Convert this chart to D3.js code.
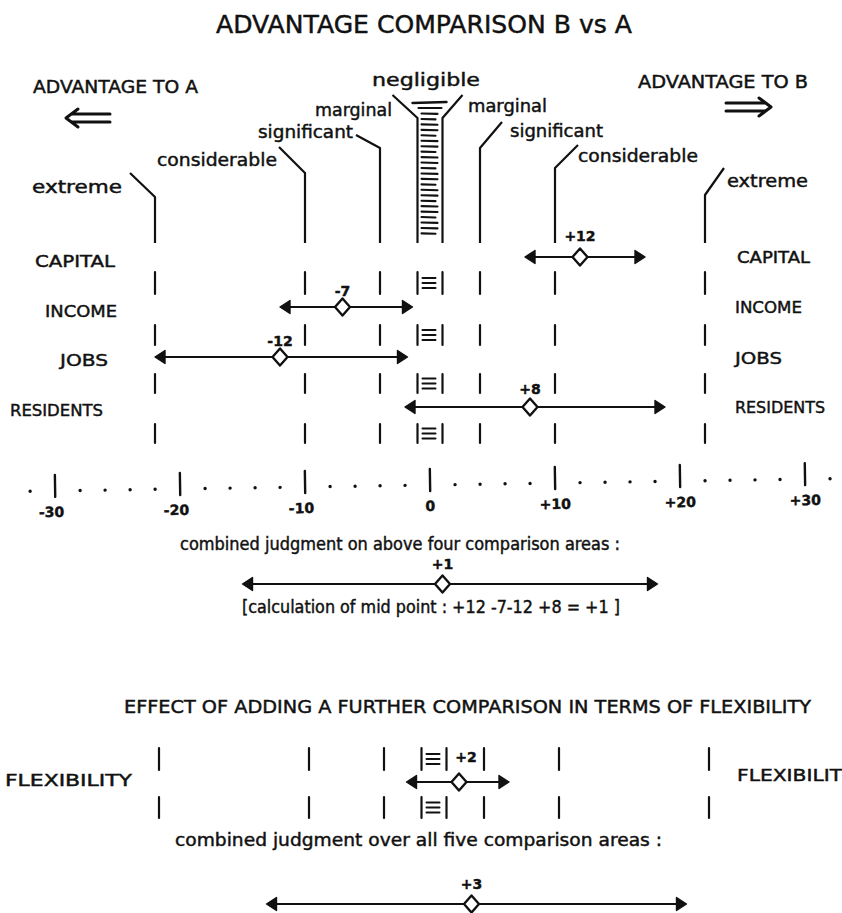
<!DOCTYPE html>
<html><head><meta charset="utf-8">
<script src="https://cdn.jsdelivr.net/npm/d3@7"></script>
<style>
body{margin:0;background:#fff}
svg{display:block}
text{font-family:"DejaVu Sans",sans-serif;fill:#111;stroke:#111;stroke-width:0.45px}
</style>
</head><body><script>
// ---------------- data ----------------
const degreeLabels = ["extreme","considerable","significant","marginal","negligible","marginal","significant","considerable","extreme"];
const boundaries = [-22,-10,-4,-1,1,4,10,22];
const tickValues = [-30,-20,-10,0,10,20,30];
const tickLabels = ["-30","-20","-10","0","+10","+20","+30"];
const minorValues = [-32,-28,-26,-24,-22,-18,-16,-14,-12,-8,-6,-4,-2,2,4,6,8,12,14,16,18,22,24,26,28,32];
const areas = ["CAPITAL","INCOME","JOBS","RESIDENTS"];
const areaMid = [12,-7,-12,8];
const areaLow = [7.6,-12,-22,-2];
const areaHigh = [17.2,-1.4,-1.8,18.8];
const areaMidLabels = ["+12","-7","-12","+8"];
const combinedRange = [-15,18.2];
const combinedMid = 1;
const combinedLabel = "+1";
const flexArea = "FLEXIBILITY";
const flexRange = [-2.2,6];
const flexMid = 2;
const flexLabel = "+2";
const finalRange = [-13.4,20.2];
const finalMid = 3;
const finalLabel = "+3";

// ---------------- layout ----------------
const W = 842, H = 913;
const svg = d3.select("body").append("svg").attr("width", W).attr("height", H);
const x = d3.scaleLinear().domain([-30,30]).range([55,805]);
const xb = d3.scaleLinear().domain([-30,30]).range([59,809]);
const ink = "#111";

function txt(s, x0, x1, base, size, weight){
  return svg.append("text").attr("x", x0).attr("y", base)
    .attr("font-size", size).attr("font-weight", weight||"normal")
    .attr("textLength", x1 - x0).attr("lengthAdjust","spacingAndGlyphs").text(s);
}

// titles
txt("ADVANTAGE COMPARISON B vs A", 216, 632, 33, 24);
txt("ADVANTAGE TO A", 33, 198, 93, 17);
txt("ADVANTAGE TO B", 638, 808, 88, 17);
// double arrows
svg.append("path").attr("d","M78,109 L66,118 L78,127 M72,114 H110 M72,122 H110")
  .attr("fill","none").attr("stroke",ink).attr("stroke-width",3).attr("stroke-linejoin","round").attr("stroke-linecap","round");
svg.append("path").attr("d","M759,98 L771,107 L759,116 M726,103 H765 M726,111 H765")
  .attr("fill","none").attr("stroke",ink).attr("stroke-width",3).attr("stroke-linejoin","round").attr("stroke-linecap","round");

// degree labels (positions by layout)
const degLayout = [
  {x0:32,x1:122,b:193},{x0:157,x1:277,b:166},{x0:258,x1:353,b:138},{x0:315,x1:392,b:116},
  {x0:372,x1:480,b:86},
  {x0:468,x1:547,b:112},{x0:510,x1:603,b:137},{x0:578,x1:698,b:162},{x0:727,x1:808,b:187}
];
degreeLabels.forEach((d,i)=>{ const L = degLayout[i]; txt(d, L.x0, L.x1, L.b, 17); });

// boundary lines with slanted tops
const lineTop = [197,173,148,118,118,148,168,195];
const slantDx = [-25,-26,-24,-25,20,22,23,19];
const slantTop = [173,147,135,95,95,122,145,168];
const line = d3.line();
boundaries.forEach((b,i)=>{
  const px = x(b);
  svg.append("path").attr("d", line([[px+slantDx[i], slantTop[i]],[px, lineTop[i]],[px, 243]]))
    .attr("fill","none").attr("stroke",ink).attr("stroke-width",2.2).attr("stroke-linejoin","round");
});
// negligible stripes in top band
svg.append("line").attr("x1",x(-1)-5).attr("x2",x(1)+4).attr("y1",103).attr("y2",102)
  .attr("stroke",ink).attr("stroke-width",2.4).attr("stroke-linecap","round");
svg.append("line").attr("x1",x(-1)+1).attr("x2",x(1)-1).attr("y1",108).attr("y2",108)
  .attr("stroke",ink).attr("stroke-width",2.2).attr("stroke-linecap","round");
d3.range(113.5, 238, 5.45).forEach((yy,k)=>{
  svg.append("line").attr("x1",x(-1)+4).attr("x2",x(1)-(k%3===1?7:5)).attr("y1",yy).attr("y2",yy+0.4)
    .attr("stroke",ink).attr("stroke-width",2.1).attr("stroke-linecap","round");
});

// row separators
const segRanges = [[272,294],[325,345],[374,393],[424,443]];
function separators(scale, ranges){
  ranges.forEach(r=>{
    boundaries.forEach(b=>{
      svg.append("line").attr("x1",scale(b)).attr("x2",scale(b)).attr("y1",r[0]).attr("y2",r[1])
        .attr("stroke",ink).attr("stroke-width",2.2).attr("stroke-linecap","round");
    });
    const m = (r[0]+r[1])/2;
    [-5,0,5].forEach(o=>{
      svg.append("line").attr("x1",scale(-1)+5).attr("x2",scale(1)-7).attr("y1",m+o).attr("y2",m+o)
        .attr("stroke",ink).attr("stroke-width",2).attr("stroke-linecap","round");
    });
  });
}
separators(x, segRanges);

// range arrows
function rangeArrow(scale, lo, hi, mid, y, label, labelDy, labelDx){
  const a = scale(lo), b = scale(hi), m = scale(mid);
  svg.append("line").attr("x1",a+6).attr("x2",b-6).attr("y1",y).attr("y2",y)
    .attr("stroke",ink).attr("stroke-width",1.9);
  svg.append("path").attr("d",`M${a},${y} L${a+10},${y-6.5} L${a+10},${y+6.5} Z`)
    .attr("fill",ink).attr("stroke",ink).attr("stroke-width",1.4).attr("stroke-linejoin","round");
  svg.append("path").attr("d",`M${b},${y} L${b-10},${y-6.5} L${b-10},${y+6.5} Z`)
    .attr("fill",ink).attr("stroke",ink).attr("stroke-width",1.4).attr("stroke-linejoin","round");
  svg.append("path").attr("d",`M${m},${y-8.5} L${m+7.5},${y} L${m},${y+8.5} L${m-7.5},${y} Z`)
    .attr("fill","#fff").attr("stroke",ink).attr("stroke-width",2.4).attr("stroke-linejoin","round");
  svg.append("text").attr("x", m + (labelDx||0)).attr("y", y - labelDy).attr("text-anchor","middle")
    .attr("font-size",14).attr("font-weight","bold").text(label);
}

const rowY = [257,307,357,407];
const labelDy = [16,11,11,13];
const leftLab = [{x0:35,x1:115,b:267},{x0:45,x1:117,b:317},{x0:60,x1:108,b:366},{x0:10,x1:103,b:416}];
const rightLab = [{x0:737,x1:810,b:263},{x0:735,x1:802,b:313},{x0:735,x1:782,b:364},{x0:735,x1:825,b:413}];
areas.forEach((a,i)=>{
  txt(a, leftLab[i].x0, leftLab[i].x1, leftLab[i].b, 16);
  txt(a, rightLab[i].x0, rightLab[i].x1, rightLab[i].b, 16);
  rangeArrow(x, areaLow[i], areaHigh[i], areaMid[i], rowY[i], areaMidLabels[i], labelDy[i]);
});

// axis
const ax = svg.append("g").attr("transform","rotate(-0.9,430,480)");
tickValues.forEach((v,i)=>{
  ax.append("line").attr("x1",x(v)).attr("x2",x(v)).attr("y1",469).attr("y2",491)
    .attr("stroke",ink).attr("stroke-width",2.4).attr("stroke-linecap","round");
  ax.append("text").attr("x",x(v)-(v<0?4:0)).attr("y",511).attr("text-anchor","middle")
    .attr("font-size",14).attr("font-weight","bold").text(tickLabels[i]);
});
minorValues.forEach(v=>{
  ax.append("circle").attr("cx",x(v)).attr("cy",485).attr("r",1.7).attr("fill",ink);
});

// combined four
txt("combined judgment on above four comparison areas :", 180, 620, 550, 17);
rangeArrow(x, combinedRange[0], combinedRange[1], combinedMid, 584, combinedLabel, 15);
txt("[calculation of mid point : +12 -7-12 +8 = +1 ]", 242, 620, 613, 17);

// flexibility section
txt("EFFECT OF ADDING A FURTHER COMPARISON IN TERMS OF FLEXIBILITY", 124, 811, 713, 18);
separators(xb, [[748,770],[797,818]]);
txt(flexArea, 5, 132, 786, 16);
txt("FLEXIBILIT", 737, 842, 781, 16);
rangeArrow(xb, flexRange[0], flexRange[1], flexMid, 782, flexLabel, 20, 7);
txt("combined judgment over all five comparison areas :", 175, 662, 846, 17);
rangeArrow(xb, finalRange[0], finalRange[1], finalMid, 904, finalLabel, 15);
</script></body></html>
